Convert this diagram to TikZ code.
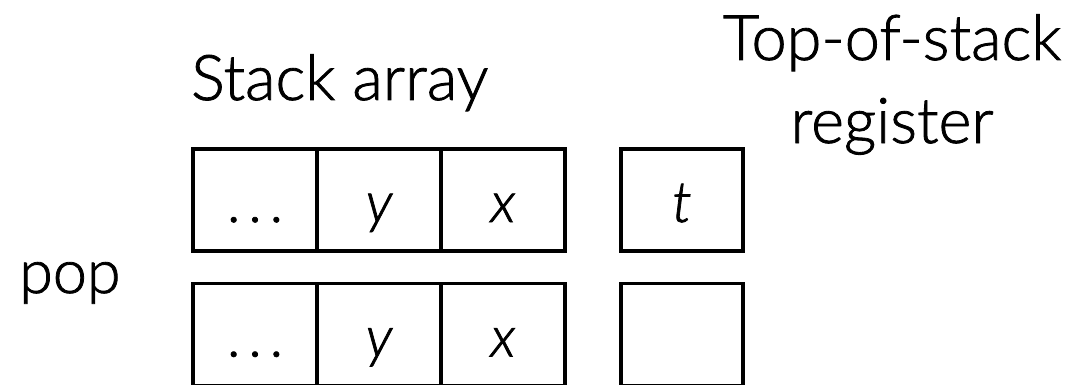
\documentclass[tikz,border=0pt]{standalone}
\usepackage{fontspec}
\setmainfont{Lato}[UprightFont=* Light, ItalicFont=* Light Italic, FakeBold=1.3, BoldFont=* Light]
\begin{document}
\begin{tikzpicture}[x=1pt,y=-1pt,
  cell/.style={draw, line width=3.3pt, minimum width=124pt, minimum height=102pt, inner sep=0pt,
    text height=44pt, text depth=0pt, font=\fontsize{57}{60}\selectfont\itshape},
  label/.style={inner sep=0pt, font=\fontsize{63}{70}\selectfont}]
\useasboundingbox (0,0) rectangle (1075,385);
% top row
\node[cell] (a1) at (255,200) {\upshape .\hspace{8pt}.\hspace{8pt}.};
\node[cell] (a2) at (379,200) {y};
\node[cell] (a3) at (503,200) {x};
\node[cell, minimum width=122pt] (r1) at (682,200) {t};
% bottom row
\node[cell] (b1) at (255,334.5) {\upshape .\hspace{8pt}.\hspace{8pt}.};
\node[cell] (b2) at (379,334.5) {y};
\node[cell] (b3) at (503,334.5) {x};
\node[cell, minimum width=122pt] (r2) at (682,334.5) {};
% labels
\node[label, anchor=base west] (sa) at (191,100) {Stack array};
\node[label, anchor=base] (tos) at (892,60) {Top-of-stack};
\node[label, anchor=base] (reg) at (892,143) {register};
\node[label, anchor=base west, font=\fontsize{61}{70}\selectfont] (pop) at (19,293) {pop};
\end{tikzpicture}
\end{document}
